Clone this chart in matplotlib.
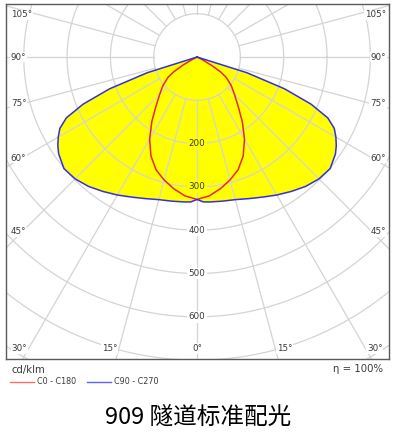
import numpy as np
import matplotlib
matplotlib.use("Agg")
import matplotlib.pyplot as plt

# gamma angles (deg from nadir) and intensities in cd/klm
gamma = [0, 2.5, 5, 10, 15, 20, 25, 30, 35, 40, 45, 50, 55, 57.5, 60,
         62.5, 65, 67.5, 70, 72.5, 75, 80, 85, 90]
c0_c180 = [329, 325, 322, 309, 294, 277, 252, 219, 182, 147, 122, 103, 82, 65, 38,
           15, 0, 0, 0, 0, 0, 0, 0, 0]
c90_c270 = [329, 335, 336, 338, 341, 348, 357, 368, 379, 390, 398, 401, 390, 381, 370,
            357, 333, 285, 215, 120, 0, 0, 0, 0]

rings = [100, 200, 300, 400, 500, 600, 700, 800, 900]
ring_labels = [200, 300, 400, 500, 600]
side_angles = [45, 60, 75, 90, 105]
bottom_angles = [0, 15, 30]

legend_names = ["C0 - C180", "C90 - C270"]
title = "909 隧道标准配光"
eta = "η = 100%"
unit = "cd/klm"

red = "#e8262a"
blue = "#3030e0"
grid_c = "#d4d4d4"
txt_c = "#3a3a3a"


def to_xy(g, r):
    # mirror the half-curve to both sides, 0 deg points down
    g = np.asarray(g, float)
    r = np.asarray(r, float)
    th = np.radians(np.concatenate([-g[::-1], g[1:]]))
    rr = np.concatenate([r[::-1], r[1:]])
    return rr * np.sin(th), -rr * np.cos(th)


fig = plt.figure(figsize=(3.96, 4.38), dpi=100)
ax = fig.add_axes([6 / 396, (438 - 359) / 438, 383 / 396, 355 / 438])
ax.set_xlim(-441, 443)
ax.set_ylim(-697.4, 122.4)
ax.set_xticks([])
ax.set_yticks([])
for s in ax.spines.values():
    s.set_color("#5a5a5a")
    s.set_linewidth(1.0)

# yellow area of the C90 - C270 plane
bx, by = to_xy(gamma, c90_c270)
ax.fill(bx, by, color="#ffff00", lw=0, zorder=1)

# polar grid
t = np.linspace(0, 2 * np.pi, 361)
for r in rings:
    ax.plot(r * np.cos(t), r * np.sin(t), color=grid_c, lw=0.9, zorder=2)
for a in range(0, 360, 15):
    th = np.radians(a)
    ax.plot([100 * np.sin(th), 1200 * np.sin(th)], [-100 * np.cos(th), -1200 * np.cos(th)],
            color=grid_c, lw=0.9, zorder=2)

lbl = dict(color=txt_c, zorder=3, fontsize=6.3)
box_w = dict(boxstyle="square,pad=0.1", fc="white", ec="none")

# ring values along the nadir ray
for r in ring_labels:
    fc = "#ffff00" if r < c90_c270[0] else "white"
    ax.text(0, -r, str(r), ha="center", va="center",
            bbox=dict(boxstyle="square,pad=0.15", fc=fc, ec="none"), **lbl)

# angle labels on the sides
for a in side_angles:
    th = np.radians(a)
    y = -404 / np.tan(th) if a != 90 else 0
    y = min(y, 97)
    ax.text(-430, y, f"{a}°", ha="left", va="center", bbox=box_w, **lbl)
    ax.text(436, y, f"{a}°", ha="right", va="center", bbox=box_w, **lbl)

# angle labels along the bottom
for a in bottom_angles:
    xa = 674 * np.tan(np.radians(a))
    if a == 0:
        ax.text(0, -674, "0°", ha="center", va="center", bbox=box_w, **lbl)
        continue
    ax.text(-xa - 3, -674, f"{a}°", ha="right", va="center", bbox=box_w, **lbl)
    ax.text(xa + 3, -674, f"{a}°", ha="left", va="center", bbox=box_w, **lbl)

# curves
rx, ry = to_xy(gamma, c0_c180)
ax.plot(rx, ry, color=red, lw=1.1, zorder=4)
ax.plot(bx, by, color=blue, lw=1.1, zorder=5)

# texts under the frame
fig.text(12 / 396, 1 - 370 / 438, unit, fontsize=7.3, color=txt_c, va="center", ha="left")
fig.text(383 / 396, 1 - 369 / 438, eta, fontsize=7.3, color=txt_c, va="center", ha="right")

ly = 1 - 382 / 438
fig.add_artist(plt.Line2D([10 / 396, 34 / 396], [ly, ly], color="#ff6b6b", lw=1.0))
fig.text(37 / 396, ly, legend_names[0], fontsize=5.8, color=txt_c, va="center")
fig.add_artist(plt.Line2D([87 / 396, 111 / 396], [ly, ly], color="#6060ff", lw=1.0))
fig.text(114 / 396, ly, legend_names[1], fontsize=5.8, color=txt_c, va="center")

fig.text(0.5, 1 - 417 / 438, title, fontsize=17, color="black", ha="center", va="center",
         family=["Noto Sans CJK SC", "DejaVu Sans"])

fig.savefig("out.png", dpi=100)
